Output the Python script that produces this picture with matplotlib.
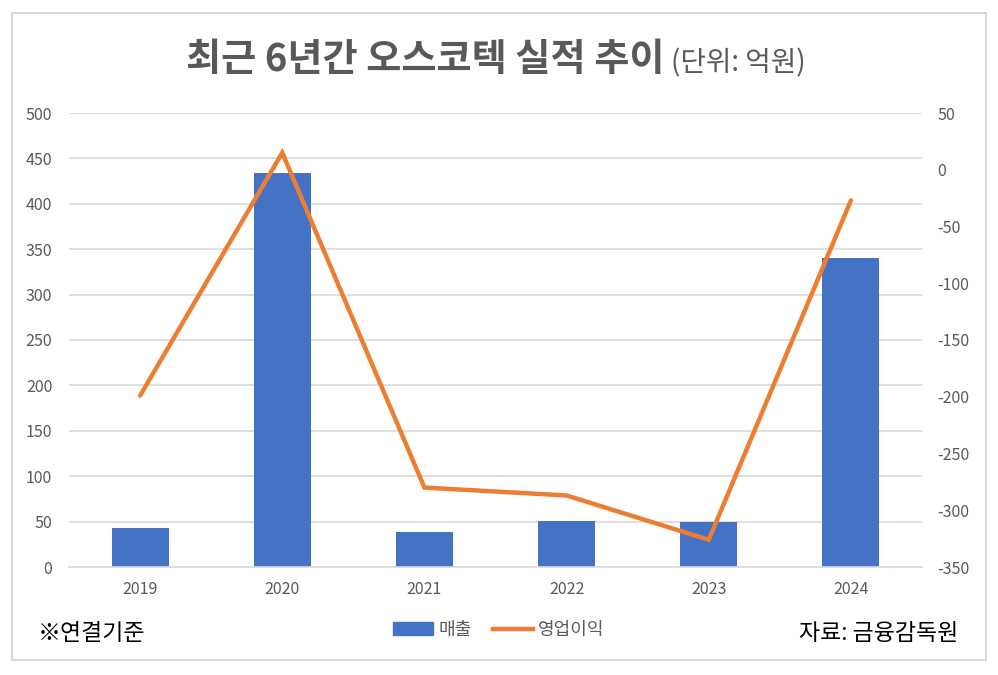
import matplotlib.pyplot as plt
import matplotlib.patches as mpatches
from matplotlib.lines import Line2D

plt.rcParams['font.family'] = ['Noto Sans CJK KR', 'DejaVu Sans']

# data (unit: 100 million won)
years = ["2019", "2020", "2021", "2022", "2023", "2024"]
sales = [43, 434, 38.5, 50.7, 49.5, 340]
op_profit = [-199, 15, -280, -287, -326, -27]

left_ticks = [0, 50, 100, 150, 200, 250, 300, 350, 400, 450, 500]
right_ticks = [50, 0, -50, -100, -150, -200, -250, -300, -350]

bar_color = "#4472C4"
line_color = "#ED7D31"
grid_color = "#D9D9D9"
tick_color = "#595959"

fig = plt.figure(figsize=(9.98, 6.75), dpi=100)

# outer frame
fig.patches.append(mpatches.Rectangle((12 / 998, 15 / 675), 974 / 998, 647 / 675,
                                      transform=fig.transFigure, fill=False,
                                      edgecolor="#D0D0D0", linewidth=1.2))

ax = fig.add_axes([69 / 998, 108 / 675, 853 / 998, 454 / 675])
x = range(len(years))
ax.bar(x, sales, width=0.4, color=bar_color, zorder=2)
ax.set_xlim(-0.5, len(years) - 0.5)
ax.set_ylim(0, 500)
ax.set_yticks(left_ticks)
ax.set_xticks(list(x))
ax.set_xticklabels(years)
ax.yaxis.grid(True, color=grid_color, linewidth=1.2, zorder=0)
ax.set_axisbelow(True)
for s in ax.spines.values():
    s.set_visible(False)
ax.spines['bottom'].set_visible(True)
ax.spines['bottom'].set_color(grid_color)
ax.spines['bottom'].set_linewidth(1.2)
ax.tick_params(length=0, colors=tick_color, labelsize=11.5)
ax.tick_params(axis='x', pad=10)
ax.tick_params(axis='y', pad=12)

ax2 = ax.twinx()
ax2.plot(x, op_profit, color=line_color, linewidth=3.2, solid_capstyle='round',
         solid_joinstyle='miter', zorder=3)
ax2.set_ylim(-350, 50)
ax2.set_yticks(right_ticks)
ax2.set_yticklabels([f"{v}" for v in right_ticks])
for s in ax2.spines.values():
    s.set_visible(False)
ax2.tick_params(length=0, colors=tick_color, labelsize=11.5, pad=11)

# title
fig.text(664 / 998, 1 - 60 / 675, "최근 6년간 오스코텍 실적 추이", ha='right',
         va='center', fontsize=27.5, fontweight='bold', color="#595959")
fig.text(671 / 998, 1 - 63 / 675, "(단위: 억원)", ha='left', va='center',
         fontsize=20, color="#595959")

# legend
handles = [mpatches.Patch(color=bar_color, label="매출"),
           Line2D([0], [0], color=line_color, linewidth=3.2, label="영업이익")]
fig.legend(handles=handles, loc='center', bbox_to_anchor=(0.5, 1 - 630 / 675),
           ncol=2, frameon=False, fontsize=13, labelcolor=tick_color,
           handlelength=2.2, handletextpad=0.3, columnspacing=1.2)

# footer notes
fig.text(38 / 998, 1 - 633 / 675, "※연결기준", ha='left', va='center', fontsize=16.5)
fig.text(958 / 998, 1 - 633 / 675, "자료: 금융감독원", ha='right', va='center', fontsize=16.5)

fig.savefig("out.png", dpi=100)
